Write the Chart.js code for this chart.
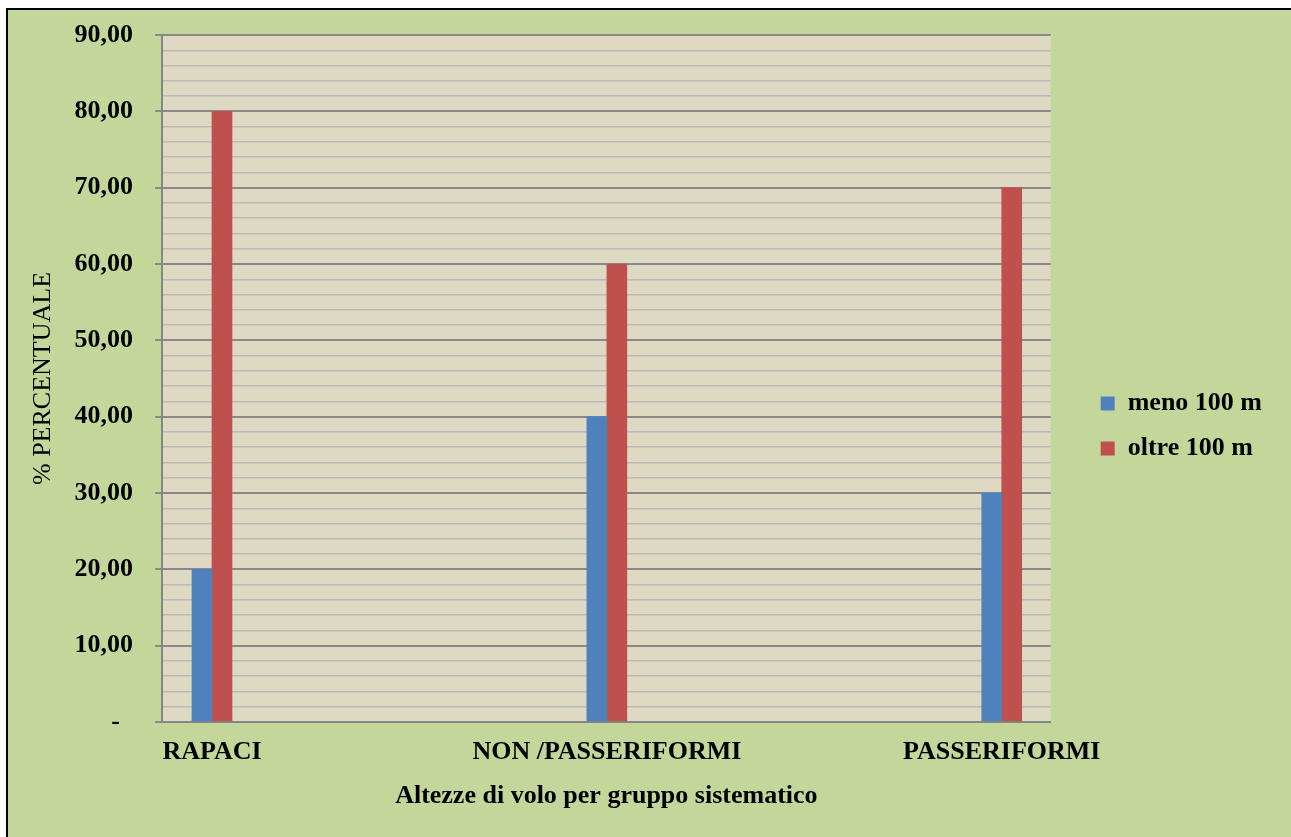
<!DOCTYPE html>
<html>
<head>
<meta charset="utf-8">
<script src="https://cdn.jsdelivr.net/npm/chart.js@4"></script>
<style>
  body { margin:0; background:#fff; }
  #box { position:absolute; left:6px; top:8px; border-left:2px solid #000; border-top:2px solid #000; }
  #grafico { display:block; background:#c4d79b; }
</style>
</head>
<body>
<div id="box"><canvas id="grafico" width="1283" height="827"></canvas></div>
<script>
// Dati
const categorie = ['RAPACI', 'NON /PASSERIFORMI', 'PASSERIFORMI'];
const meno100 = [20, 40, 30];
const oltre100 = [80, 60, 70];
const serie = ['meno 100 m', 'oltre 100 m'];

const serif = '"Liberation Serif", "Times New Roman", serif';

function punti(valori) { return valori.map((v, i) => ({ x: i, y: v })); }

// formato contabile tipo Excel: "-" per lo zero
function etichettaY(v) {
  if (v % 10 !== 0) return '';
  if (v === 0) return '-    ';
  return v.toFixed(2).replace('.', ',') + '  ';
}

const principale = c => c.tick && c.tick.value % 10 === 0;

// sfondo area del grafico
const sfondoPlot = {
  id: 'sfondoPlot',
  beforeDraw(chart) {
    const a = chart.chartArea, c = chart.ctx;
    c.save();
    c.fillStyle = '#ddd9c3';
    c.fillRect(a.left, a.top, a.right - a.left, a.bottom - a.top);
    c.restore();
  }
};

const ctx = document.getElementById('grafico').getContext('2d');
new Chart(ctx, {
  type: 'bar',
  data: {
    datasets: [
      { label: serie[0], data: punti(meno100), backgroundColor: '#4f81bd', xAxisID: 'x', yAxisID: 'y' },
      { label: serie[1], data: punti(oltre100), backgroundColor: '#c0504d', xAxisID: 'x', yAxisID: 'y' }
    ]
  },
  options: {
    responsive: false,
    animation: false,
    barThickness: 20,
    layout: { padding: { top: 25, right: 19, bottom: 20, left: 0 } },
    plugins: {
      tooltip: { enabled: false },
      legend: {
        position: 'right',
        labels: {
          boxWidth: 14, boxHeight: 14, padding: 19, color: '#000',
          font: { family: serif, size: 26, weight: 'bold' }
        }
      }
    },
    scales: {
      x: {
        type: 'linear',
        offset: false,
        min: -0.1266,
        max: 2.124,
        grid: { display: false, drawTicks: false },
        border: { color: '#868686', width: 2 },
        afterBuildTicks: s => { s.ticks = categorie.map((_, i) => ({ value: i })); },
        ticks: {
          autoSkip: false, maxRotation: 0, padding: 15, color: '#000',
          font: { family: serif, size: 26, weight: 'bold' },
          callback: v => categorie[v]
        },
        title: {
          display: true, text: 'Altezze di volo per gruppo sistematico', color: '#000',
          font: { family: serif, size: 26, weight: 'bold' },
          padding: { top: 0, bottom: 5 }
        },
        afterFit: s => { s.height = 95; }
      },
      y: {
        position: 'left',
        min: 0, max: 90,
        border: { color: '#868686', width: 2 },
        grid: {
          tickLength: 7,
          lineWidth: c => principale(c) ? 2 : 1.5,
          color: c => principale(c) ? '#898989' : '#bababa',
          tickColor: c => principale(c) ? '#898989' : 'rgba(0,0,0,0)'
        },
        ticks: {
          stepSize: 2, autoSkip: false, padding: 9, color: '#000',
          font: { family: serif, size: 26, weight: 'bold' },
          callback: etichettaY
        },
        title: {
          display: true, text: '% PERCENTUALE', color: '#000',
          font: { family: serif, size: 26 },
          padding: { top: 20, bottom: 0 }
        },
        afterFit: s => { s.width = 154; }
      },
      yVuoto: {
        type: 'linear',
        position: 'right',
        grid: { display: false },
        border: { display: false },
        ticks: { display: false },
        afterFit: s => { s.width = 31; }
      }
    }
  },
  plugins: [sfondoPlot]
});
</script>
</body>
</html>
